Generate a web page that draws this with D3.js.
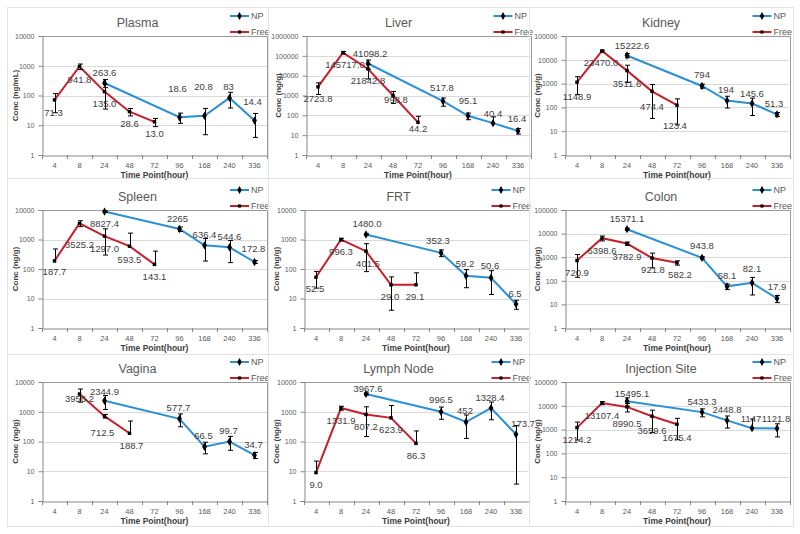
<!DOCTYPE html>
<html><head><meta charset="utf-8">
<script src="https://cdn.jsdelivr.net/npm/d3@7"></script>
<style>
body{margin:0;background:#fff}
svg{display:block}
text{font-family:"Liberation Sans",Arial,sans-serif}
</style>
</head><body>
<svg id="c" width="800" height="534"></svg>
<script>
// ---------- DATA ----------
const categories = ["4","8","24","48","72","96","168","240","336"];
const organs = ["Plasma","Liver","Kidney","Spleen","FRT","Colon","Vagina","Lymph Node","Injection Site"];
const yTitles = ["Conc (ng/mL)","Conc (ng/g)","Conc (ng/g)","Conc (ng/g)","Conc (ng/g)","Conc (ng/g)","Conc (ng/g)","Conc (ng/g)","Conc (ng/g)"];
const yMaxExp = [4,6,5,4,4,5,4,4,5];
const seriesNames = ["NP","Free"];

const freeTimes = ["4","8","24","48","72"];
const freeTimesVagina = ["8","24","48"];
const npTimes = ["24","96","168","240","336"];

const plasmaFree = ["71.3","941.8","135.0","28.6","13.0"];
const plasmaFreeSD = [45,200,100,8,4];
const plasmaNP = ["263.6","18.6","20.8","83","14.4"];
const plasmaNPSD = [80,7,16,45,10.5];

const liverFree = ["2723.8","145717.0","21842.8","998.8","44.2"];
const liverFreeSD = [1600,20000,15000,600,45];
const liverNP = ["41098.2","517.8","95.1","40.4","16.4"];
const liverNPSD = [20000,230,35,43,5];

const kidneyFree = ["1148.9","23470.0","3511.6","474.4","123.4"];
const kidneyFreeSD = [800,2000,2400,440,105];
const kidneyNP = ["15222.6","794","194","145.6","51.3"];
const kidneyNPSD = [3000,150,100,100,10];

const spleenFree = ["187.7","3525.2","1297.0","593.5","143.1"];
const spleenFreeSD = [290,800,1000,1050,260];
const spleenNP = ["8827.4","2265","636.4","544.6","172.8"];
const spleenNPSD = [500,400,450,380,20];

const frtFree = ["52.5","996.3","401.5","29.0","29.1"];
const frtFreeSD = [30,100,320,25,45];
const frtNP = ["1480.0","352.3","59.2","50.6","6.5"];
const frtNPSD = [100,90,36,37,2.2];

const colonFree = ["720.9","6398.6","3782.9","921.8","582.2"];
const colonFreeSD = [580,1500,600,570,120];
const colonNP = ["15371.1","943.8","58.1","82.1","17.9"];
const colonNPSD = [1500,100,15,57,6];

const vaginaFree = ["3956.2","712.5","188.7"];
const vaginaFreeSD = [1850,100,300];
const vaginaNP = ["2344.9","577.7","66.5","99.7","34.7"];
const vaginaNPSD = [1150,265,28,49,8];

const lymphFree = ["9.0","1331.9","807.2","623.9","86.3"];
const lymphFreeSD = [13,200,660,1000,140];
const lymphNP = ["3967.6","996.5","452","1328.4","173.7"];
const lymphNPSD = [300,440,325,790,170];

const injFree = ["1214.2","13107.4","8990.5","3659.6","1675.4"];
const injFreeSD = [850,2000,3500,2900,1300];
const injNP = ["15495.1","5433.3","2448.8","1147","1121.8"];
const injNPSD = [6000,2000,1290,1650,630];

const freeVals = [plasmaFree,liverFree,kidneyFree,spleenFree,frtFree,colonFree,vaginaFree,lymphFree,injFree];
const freeSDs = [plasmaFreeSD,liverFreeSD,kidneyFreeSD,spleenFreeSD,frtFreeSD,colonFreeSD,vaginaFreeSD,lymphFreeSD,injFreeSD];
const npVals = [plasmaNP,liverNP,kidneyNP,spleenNP,frtNP,colonNP,vaginaNP,lymphNP,injNP];
const npSDs = [plasmaNPSD,liverNPSD,kidneyNPSD,spleenNPSD,frtNPSD,colonNPSD,vaginaNPSD,lymphNPSD,injNPSD];
const freeTimeSets = [freeTimes,freeTimes,freeTimes,freeTimes,freeTimes,freeTimes,freeTimesVagina,freeTimes,freeTimes];

// ---------- LAYOUT (pixel nudges for data labels, not data) ----------
const freeLabelDy = [[13,13,12,12,12],[12,12,12,4,6],[14,12,13,15,20],[11,21,12,13,12],[11,12,12,12,12],[12,12,13,11,12],[5,16,12],[12,12,12,12,12],[12,12,17,14,13]];
const freeLabelDx = [[-1,0,0,0,0],[0,2,0,3,0],[0,-1,0,0,-2],[0,0,0,0,0],[-1,0,2,-1,-1],[0,0,0,1,3],[0,-2,2],[0,0,0,0,0],[0,0,0,0,0]];
const npLabelDy = [[-10,-29,-29,-11,-19],[-10,-14,-15,-10,-12],[-10,-11,-11,-10,-11],[12,-11,-11,-11,-13],[-11,-12,-12,-12,-11],[-11,-12,-11,-14,-12],[-9,-11,-11,-11,-11],[-5,-12,-12,-11,-11],[-8,-11,-11,-10,-10]];
const npLabelDx = [[0,-2,-1,-1,-2],[2,-1,0,0,-1],[5,0,-1,0,-3],[0,-2,0,0,-1],[1,-3,-1,-1,-1],[0,0,0,0,0],[0,-1,-1,-1,-1],[2,0,-1,-1,7],[5,0,0,-1,-1]];

const plotLeft = [42,305.5,564.5,42,303.5,564.5,42,303.5,564.5];
const rowTop = [36,210,382], rowBottom = [155,328,501];
const areaX = [[7,268],[268,529],[529,793]], areaY = [[7,178],[178,354],[354,526]];

const NP_COLOR = "#2b91d6", FREE_COLOR = "#c8202a";
const svg = d3.select("#c");

organs.forEach((organ, k) => {
  const col = k % 3, row = Math.floor(k / 3);
  const left = plotLeft[k], right = left + 225;
  const top = rowTop[row], bottom = rowBottom[row];
  const g = svg.append("g");

  // chart area border
  g.append("rect").attr("x", areaX[col][0]+0.5).attr("y", areaY[row][0]+0.5)
    .attr("width", areaX[col][1]-areaX[col][0]).attr("height", areaY[row][1]-areaY[row][0])
    .attr("fill", "none").attr("stroke", "#e3e3e3");

  const x = d3.scaleBand().domain(categories).range([left, right]);
  const y = d3.scaleLog().domain([1, Math.pow(10, yMaxExp[k])]).range([bottom, top]);
  const decades = d3.range(0, yMaxExp[k] + 1).map(e => Math.pow(10, e));
  const cx = c => x(c) + x.bandwidth() / 2;

  // gridlines
  g.append("g").selectAll("line").data(decades.slice(1)).join("line")
    .attr("x1", left).attr("x2", right)
    .attr("y1", d => Math.round(y(d)) + 0.5).attr("y2", d => Math.round(y(d)) + 0.5)
    .attr("stroke", "#d9d9d9");
  // plot border (top/right)
  g.append("path").attr("d", `M${left},${Math.round(top)+0.5}H${Math.round(right)+0.5}V${bottom}`)
    .attr("fill", "none").attr("stroke", "#9a9a9a");

  // y axis
  const ya = g.append("g").attr("transform", `translate(${Math.round(left)+0.5},0)`)
    .call(d3.axisLeft(y).tickValues(decades).tickFormat(d3.format("d")).tickSize(4).tickPadding(4));
  ya.select(".domain").attr("stroke", "#868686");
  ya.selectAll(".tick line").attr("stroke", "#868686");
  ya.selectAll("text").attr("fill", "#595959").style("font-size", "7px").style("font-family", "Liberation Sans, Arial, sans-serif");

  // x axis
  const xa = g.append("g").attr("transform", `translate(0,${Math.round(bottom)+0.5})`)
    .call(d3.axisBottom(x).tickSize(0).tickPadding(7));
  xa.select(".domain").attr("stroke", "#868686");
  xa.selectAll("text").attr("fill", "#595959").style("font-size", "7.5px").style("font-family", "Liberation Sans, Arial, sans-serif");
  const bounds = categories.map(c => x(c)).concat([right]);
  g.append("g").selectAll("line").data(bounds).join("line")
    .attr("x1", d => Math.round(d) + 0.5).attr("x2", d => Math.round(d) + 0.5)
    .attr("y1", bottom).attr("y2", bottom + 4).attr("stroke", "#868686");

  // titles
  g.append("text").attr("x", (areaX[col][0] + areaX[col][1]) / 2).attr("y", top - 13)
    .attr("text-anchor", "middle").attr("dominant-baseline", "central")
    .attr("fill", "#595959").style("font-size", "12.5px").text(organ);
  g.append("text").attr("x", (left + right) / 2).attr("y", bottom + 19.5)
    .attr("text-anchor", "middle").attr("dominant-baseline", "central")
    .attr("fill", "#404040").style("font-size", "8.5px").style("font-weight", "bold").text("Time Point(hour)");
  g.append("text").attr("transform", `translate(${left - 27},${(top + bottom) / 2}) rotate(-90)`)
    .attr("text-anchor", "middle").attr("dominant-baseline", "central")
    .attr("fill", "#404040").style("font-size", "8px").style("font-weight", "bold").text(yTitles[k]);

  // legend
  seriesNames.forEach((s, i) => {
    const ly = top - (i === 0 ? 20 : 4);
    const color = i === 0 ? NP_COLOR : FREE_COLOR;
    g.append("line").attr("x1", right - 37).attr("x2", right - 18).attr("y1", ly).attr("y2", ly)
      .attr("stroke", color).attr("stroke-width", 2);
    g.append("path").attr("transform", `translate(${right - 27.5},${ly})`)
      .attr("d", d3.symbol(i === 0 ? d3.symbolDiamond : d3.symbolSquare, i === 0 ? 18 : 10)()).attr("fill", "#000");
    g.append("text").attr("x", right - 16).attr("y", ly).attr("dominant-baseline", "central")
      .attr("fill", "#595959").style("font-size", "9px").text(s);
  });

  const freeData = freeTimeSets[k].map((t, i) => ({t, s: freeVals[k][i], v: +freeVals[k][i], sd: freeSDs[k][i], dx: freeLabelDx[k][i], dy: freeLabelDy[k][i]}));
  const npData = npTimes.map((t, i) => ({t, s: npVals[k][i], v: +npVals[k][i], sd: npSDs[k][i], dx: npLabelDx[k][i], dy: npLabelDy[k][i]}));

  const line = d3.line().x(d => cx(d.t)).y(d => y(d.v));
  g.append("path").datum(freeData).attr("d", line).attr("fill", "none").attr("stroke", FREE_COLOR).attr("stroke-width", 2);
  g.append("path").datum(npData).attr("d", line).attr("fill", "none").attr("stroke", NP_COLOR).attr("stroke-width", 2);

  const clipId = "clip" + k;
  g.append("clipPath").attr("id", clipId).append("rect").attr("x", left - 5).attr("y", top).attr("width", 235).attr("height", bottom - top);
  const eb = g.append("g").attr("clip-path", `url(#${clipId})`);
  [freeData, npData].forEach(arr => {
    arr.forEach(d => {
      const px = Math.round(cx(d.t)) + 0.5;
      const yt = y(d.v + d.sd);
      const hasLow = d.v - d.sd > 0;
      const yb = hasLow ? y(Math.max(d.v - d.sd, 0.5)) : y(d.v);
      eb.append("line").attr("x1", px).attr("x2", px).attr("y1", yt).attr("y2", yb).attr("stroke", "#000").attr("stroke-width", 1);
      eb.append("line").attr("x1", px - 2.5).attr("x2", px + 2.5).attr("y1", yt).attr("y2", yt).attr("stroke", "#000");
      if (hasLow) eb.append("line").attr("x1", px - 2.5).attr("x2", px + 2.5).attr("y1", yb).attr("y2", yb).attr("stroke", "#000");
    });
  });

  // markers
  g.append("g").selectAll("path").data(freeData).join("path")
    .attr("transform", d => `translate(${cx(d.t)},${y(d.v)})`)
    .attr("d", d3.symbol(d3.symbolSquare, 12)()).attr("fill", "#000");
  g.append("g").selectAll("path").data(npData).join("path")
    .attr("transform", d => `translate(${cx(d.t)},${y(d.v)})`)
    .attr("d", d3.symbol(d3.symbolDiamond, 20)()).attr("fill", "#000");

  // data labels
  g.append("g").selectAll("text").data(freeData.concat(npData)).join("text")
    .attr("x", d => cx(d.t) + d.dx).attr("y", d => y(d.v) + d.dy)
    .attr("text-anchor", "middle").attr("dominant-baseline", "central")
    .attr("fill", "#404040").style("font-size", "9.5px").text(d => d.s);
});
</script>
</body></html>
